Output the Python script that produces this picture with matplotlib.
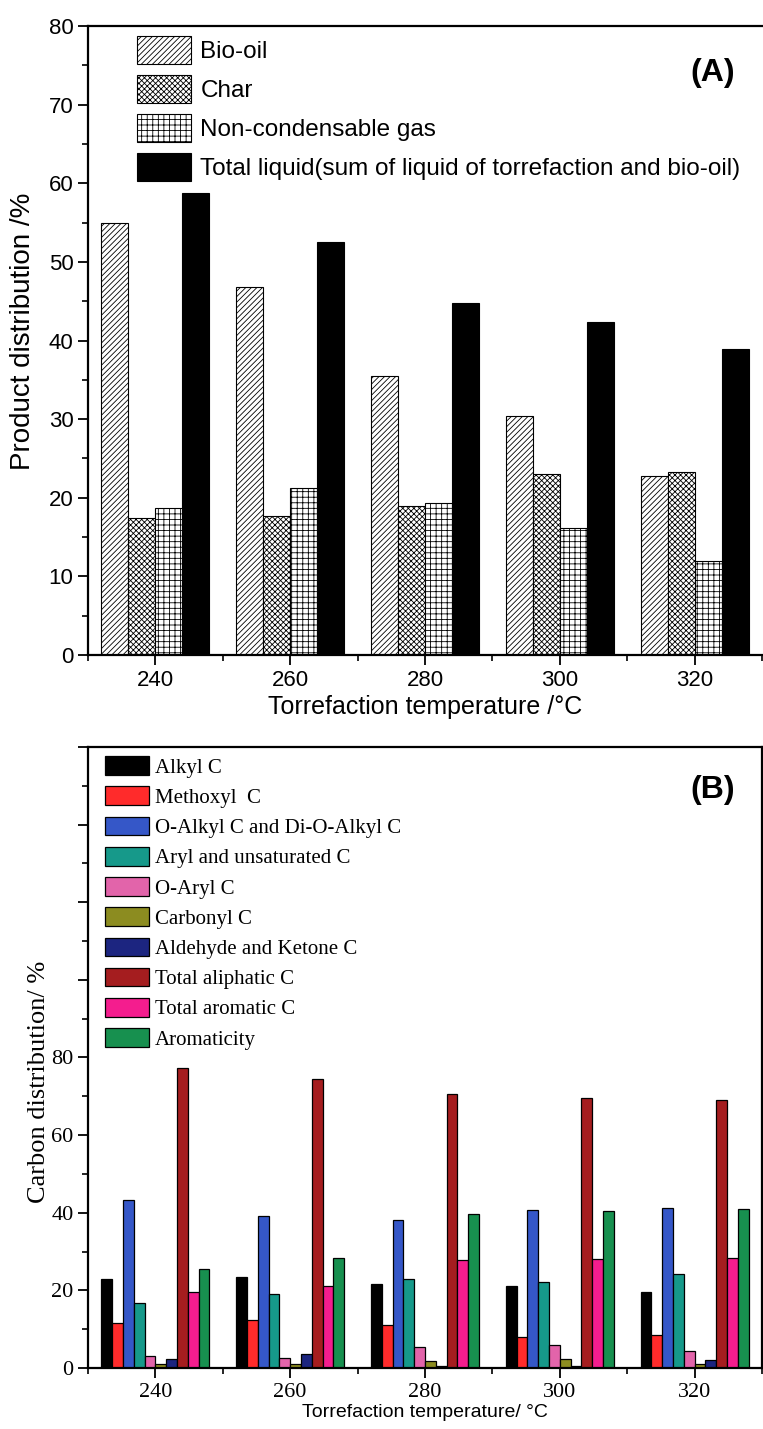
# -*- coding: utf-8 -*-
# two stacked bar charts: product distribution (A) and carbon distribution (B)

import numpy as np
import matplotlib
matplotlib.use('Agg')
import matplotlib.pyplot as plt
from matplotlib.ticker import MultipleLocator, FuncFormatter

# data
temps = [240, 260, 280, 300, 320]

# panel A
bio_oil = [55.0, 46.8, 35.5, 30.4, 22.8]
char = [17.4, 17.7, 18.9, 23.0, 23.3]
gas = [18.7, 21.3, 19.3, 16.2, 11.9]
total_liquid = [58.8, 52.5, 44.8, 42.3, 38.9]
labels_a = ['Bio-oil', 'Char', 'Non-condensable gas',
            'Total liquid(sum of liquid of torrefaction and bio-oil)']

# panel B
alkyl = [22.8, 23.4, 21.6, 21.0, 19.5]
methoxyl = [11.7, 12.4, 11.1, 8.1, 8.6]
o_alkyl = [43.2, 39.1, 38.1, 40.6, 41.1]
aryl = [16.7, 19.0, 22.8, 22.2, 24.1]
o_aryl = [3.0, 2.6, 5.3, 5.8, 4.5]
carbonyl = [1.0, 0.9, 1.7, 2.4, 1.0]
aldehyde = [2.3, 3.6, 0.4, 0.6, 2.0]
tot_aliph = [77.4, 74.4, 70.7, 69.5, 69.1]
tot_arom = [19.5, 21.2, 27.8, 28.0, 28.4]
aromaticity = [25.4, 28.4, 39.6, 40.4, 40.9]
labels_b = ['Alkyl C', 'Methoxyl  C', 'O-Alkyl C and Di-O-Alkyl C',
            'Aryl and unsaturated C', 'O-Aryl C', 'Carbonyl C',
            'Aldehyde and Ketone C', 'Total aliphatic C', 'Total aromatic C',
            'Aromaticity']
colors_b = ['#000000', '#ff2b2b', '#3557c8', '#16998a', '#e264aa',
            '#8c8c20', '#1c2580', '#a51d1f', '#f41d8e', '#17904f']

plt.rcParams['hatch.linewidth'] = 0.6
sans = ['Liberation Sans', 'DejaVu Sans']
serif = ['Liberation Serif', 'DejaVu Serif']

fig = plt.figure(figsize=(7.63, 14.29), dpi=100)
x = np.array(temps, dtype=float)

# ---------------- panel A ----------------
axA = fig.add_axes([0.1153, 0.5416, 0.8834, 0.4402])
w = 4.0
series_a = [bio_oil, char, gas, total_liquid]
hatches = ['//////', 'xxxxxx', '+++', None]
for k, (vals, h, lab) in enumerate(zip(series_a, hatches, labels_a)):
    fc = 'black' if h is None else 'white'
    axA.bar(x + (k - 1.5) * w, vals, width=w, facecolor=fc, edgecolor='black',
            hatch=h, linewidth=0.8, label=lab)

axA.set_xlim(230, 330)
axA.set_ylim(0, 80)
axA.xaxis.set_major_locator(MultipleLocator(20))
axA.xaxis.set_minor_locator(MultipleLocator(10))
axA.yaxis.set_major_locator(MultipleLocator(10))
axA.yaxis.set_minor_locator(MultipleLocator(5))
axA.tick_params(which='major', length=7, width=1.3, labelsize=16, direction='out')
axA.tick_params(which='minor', length=4, width=1.2, direction='out')
for t in axA.get_xticklabels() + axA.get_yticklabels():
    t.set_family(sans)
for s in ['left', 'top', 'bottom']:
    axA.spines[s].set_linewidth(1.6)
axA.spines['right'].set_visible(False)
axA.set_ylabel('Product distribution /%', fontsize=20, family=sans)
axA.yaxis.set_label_coords(-0.077, 0.515)
axA.set_xlabel('Torrefaction temperature /\u00b0C', fontsize=18, family=sans, labelpad=3)
axA.text(0.96, 0.925, '(A)', transform=axA.transAxes, fontsize=23,
         fontweight='bold', family=sans, ha='right', va='center')
axA.legend(loc='upper left', bbox_to_anchor=(0.073, 0.984), frameon=False,
           borderaxespad=0, borderpad=0, handlelength=2.2, handleheight=1.4,
           labelspacing=0.45, handletextpad=0.4, prop={'family': sans, 'size': 17.5})

# ---------------- panel B ----------------
axB = fig.add_axes([0.1153, 0.0427, 0.8834, 0.4346])
series_b = [alkyl, methoxyl, o_alkyl, aryl, o_aryl, carbonyl, aldehyde,
            tot_aliph, tot_arom, aromaticity]
wb = 1.6
for k, (vals, c, lab) in enumerate(zip(series_b, colors_b, labels_b)):
    axB.bar(x + (k - 4.5) * wb, vals, width=wb, color=c, edgecolor='black',
            linewidth=0.9, label=lab)

axB.set_xlim(230, 330)
axB.set_ylim(0, 160)
axB.xaxis.set_major_locator(MultipleLocator(20))
axB.xaxis.set_minor_locator(MultipleLocator(10))
axB.yaxis.set_major_locator(MultipleLocator(20))
axB.yaxis.set_minor_locator(MultipleLocator(10))
axB.yaxis.set_major_formatter(FuncFormatter(lambda v, p: f'{v:.0f}' if v <= 80 else ''))
axB.tick_params(which='major', length=7, width=1.3, labelsize=16, direction='out')
axB.tick_params(which='minor', length=4, width=1.2, direction='out')
for t in axB.get_xticklabels() + axB.get_yticklabels():
    t.set_family(serif)
for s in axB.spines.values():
    s.set_linewidth(1.6)
axB.set_ylabel('Carbon distribution/ %', fontsize=19, family=serif)
axB.yaxis.set_label_coords(-0.056, 0.46)
axB.set_xlabel('Torrefaction temperature/ \u00b0C', fontsize=14, family=sans, labelpad=2)
axB.text(0.96, 0.93, '(B)', transform=axB.transAxes, fontsize=23,
         fontweight='bold', family=sans, ha='right', va='center')
axB.legend(loc='upper left', bbox_to_anchor=(0.025, 0.985), frameon=False,
           borderaxespad=0, borderpad=0, handlelength=2.1, handleheight=1.0,
           labelspacing=0.42, handletextpad=0.3, prop={'family': serif, 'size': 15})

fig.savefig('out.png', dpi=100)
